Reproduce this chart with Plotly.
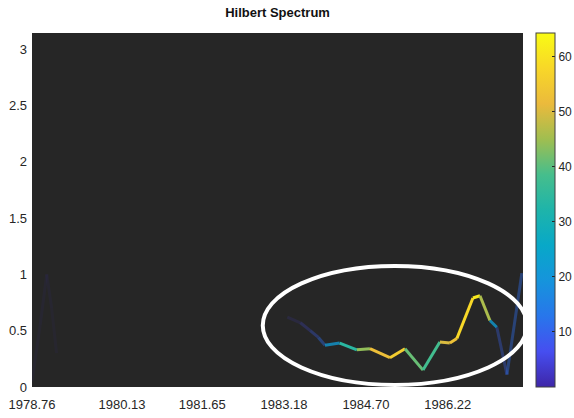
import numpy as np
import plotly.graph_objects as go

# Instantaneous frequency track (sample index, frequency) and its amplitude
t_left = [0, 5, 9, 12, 15]
f_left = [0.05, 0.55, 1.0, 0.70, 0.30]
a_left = [1, 2, 2, 2, 1]

t_main = [156, 164, 170, 175, 179, 188, 198.5, 206.5, 218.7, 227.9, 238.9,
          249.2, 255.3, 259.6, 269.4, 273.7, 279.8, 284, 290.2, 299.3]
f_main = [0.62, 0.57, 0.50, 0.44, 0.37, 0.39, 0.33, 0.34, 0.26, 0.34, 0.15,
          0.40, 0.39, 0.43, 0.79, 0.81, 0.59, 0.53, 0.11, 1.01]
a_main = [3, 5, 8, 10, 13, 30, 38, 50, 55, 56, 26,
          50, 50, 56, 60, 62, 30, 14, 5, 18]

tick_pos = [0, 55, 104, 154, 204, 254]
tick_txt = ["1978.76", "1980.13", "1981.65", "1983.18", "1984.70", "1986.22"]
y_ticks = [0, 0.5, 1, 1.5, 2, 2.5, 3]
y_txt = ["0", "0.5", "1", "1.5", "2", "2.5", "3"]

cmin, cmax = 0, 64.3
parula = [
    [0.00, "rgb(62,38,168)"], [0.10, "rgb(70,78,240)"], [0.20, "rgb(40,118,235)"],
    [0.30, "rgb(22,148,220)"], [0.40, "rgb(8,168,200)"], [0.50, "rgb(30,180,170)"],
    [0.60, "rgb(70,190,140)"], [0.70, "rgb(160,190,80)"], [0.80, "rgb(235,186,60)"],
    [0.90, "rgb(248,215,40)"], [1.00, "rgb(249,251,20)"],
]


def cscale_color(v):
    v = min(max(v, 0.0), 1.0)
    for (p0, c0), (p1, c1) in zip(parula[:-1], parula[1:]):
        if v <= p1:
            r0 = [int(x) for x in c0[4:-1].split(",")]
            r1 = [int(x) for x in c1[4:-1].split(",")]
            w = (v - p0) / (p1 - p0)
            r = [round(a + (b - a) * w) for a, b in zip(r0, r1)]
            return f"rgb({r[0]},{r[1]},{r[2]})"
    return parula[-1][1]


fig = go.Figure()


def add_track(ts, fs, amps):
    for i in range(len(ts) - 1):
        amp = 0.5 * (amps[i] + amps[i + 1])
        fig.add_trace(go.Scatter(
            x=[ts[i], ts[i + 1]], y=[fs[i], fs[i + 1]], mode="lines",
            line=dict(color=cscale_color((amp - cmin) / (cmax - cmin)), width=3),
            opacity=float(np.clip(amp / 28, 0.06, 1.0)),
            showlegend=False, hoverinfo="skip"))


add_track(t_left, f_left, a_left)
add_track(t_main, f_main, a_main)

# colour bar carrier
fig.add_trace(go.Scatter(
    x=[None], y=[None], mode="markers",
    marker=dict(color=[cmin], colorscale=parula, cmin=cmin, cmax=cmax, showscale=True,
                colorbar=dict(x=1.0265, xanchor="left", y=0, yanchor="bottom", len=1,
                              lenmode="fraction", thickness=19, thicknessmode="pixels",
                              outlinecolor="#404040", outlinewidth=1,
                              tickvals=[10, 20, 30, 40, 50, 60], ticks="inside",
                              ticklen=3, tickcolor="#262626",
                              tickfont=dict(family="Liberation Sans", size=12, color="#262626"),
                              xpad=0, ypad=0)),
    showlegend=False, hoverinfo="skip"))

# highlight ellipse
fig.add_shape(type="circle", xref="paper", yref="paper",
              x0=0.470, x1=1.008, y0=0.006, y1=0.342,
              line=dict(color="white", width=4))

fig.update_layout(
    width=574, height=418,
    margin=dict(l=32, r=51, t=33, b=31, autoexpand=False),
    paper_bgcolor="white", plot_bgcolor="#262626",
    title=dict(text="<b>Hilbert Spectrum</b>", x=0.4835, xanchor="center", y=0.97,
               yanchor="middle",
               font=dict(family="Liberation Sans", size=13, color="#111111")),
    font=dict(family="Liberation Sans", size=13, color="#262626"),
)
fig.update_xaxes(range=[0, 300], tickvals=tick_pos, ticktext=tick_txt, showgrid=False,
                 zeroline=False, ticks="", showline=False, ticklabelstandoff=8)
fig.update_yaxes(range=[0, np.pi], tickvals=y_ticks, ticktext=y_txt, showgrid=False,
                 zeroline=False, ticks="", showline=False, ticklabelstandoff=4)

fig.write_html("out.html")
